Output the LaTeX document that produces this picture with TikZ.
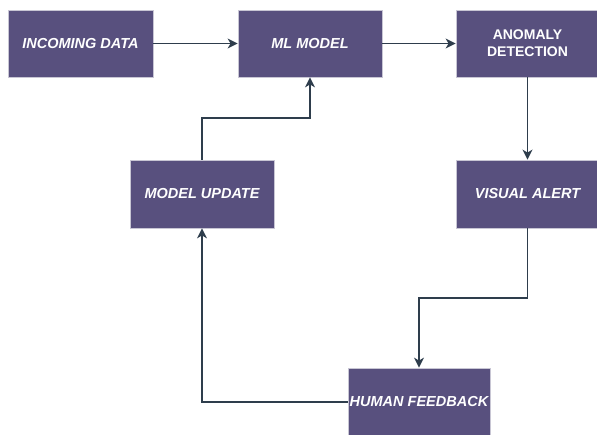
\documentclass[tikz,border=0pt]{standalone}
\usepackage{fontspec}
\setmainfont{Liberation Sans}
\usetikzlibrary{arrows.meta}
\definecolor{boxfill}{HTML}{58507E}
\definecolor{boxline}{HTML}{C8C6D4}
\definecolor{wire}{HTML}{2E3D4C}
\begin{document}
\begin{tikzpicture}[x=1pt,y=-1pt,
  stage/.style={draw=boxline,line width=0.8pt,fill=boxfill,text=white,
    font=\fontsize{14.5}{17}\selectfont\bfseries\itshape,align=center,inner sep=0pt},
  uprightstage/.style={stage,font=\fontsize{14}{17}\selectfont\bfseries},
  flow/.style={draw=wire,line width=1.3pt,-{Stealth[length=10pt,width=10pt,inset=3pt]}}]
\useasboundingbox (0,0) rectangle (597,435);
\fill[white] (0,0) rectangle (597,435);
\node[stage,minimum width=145pt,minimum height=67pt] (inc) at (80.5,43.5) {INCOMING DATA};
\node[stage,minimum width=144pt,minimum height=67pt] (ml) at (310,43.5) {ML MODEL};
\node[uprightstage,minimum width=143pt,minimum height=67pt] (ano) at (527.5,43.5) {ANOMALY\\DETECTION};
\node[stage,minimum width=144pt,minimum height=68pt] (upd) at (202,194) {MODEL UPDATE};
\node[stage,minimum width=143pt,minimum height=68pt] (vis) at (527.5,194) {VISUAL ALERT};
\node[stage,minimum width=142pt,minimum height=68pt] (hum) at (419,402) {HUMAN FEEDBACK};
\coordinate (c1) at (vis.south |- 0,298);
\coordinate (c2) at (hum.north |- 0,298);
\coordinate (c3) at (upd.north |- 0,118);
\coordinate (c4) at (ml.south |- 0,118);
\draw[flow] (inc.east) -- (ml.west);
\draw[flow] (ml.east) -- (ano.west);
\draw[flow] (ano.south) -- (vis.north);
\draw[flow] (vis.south) -- (c1) -- (c2) -- (hum.north);
\draw[flow] (hum.west) -| (upd.south);
\draw[flow] (upd.north) -- (c3) -- (c4) -- (ml.south);
\end{tikzpicture}
\end{document}
